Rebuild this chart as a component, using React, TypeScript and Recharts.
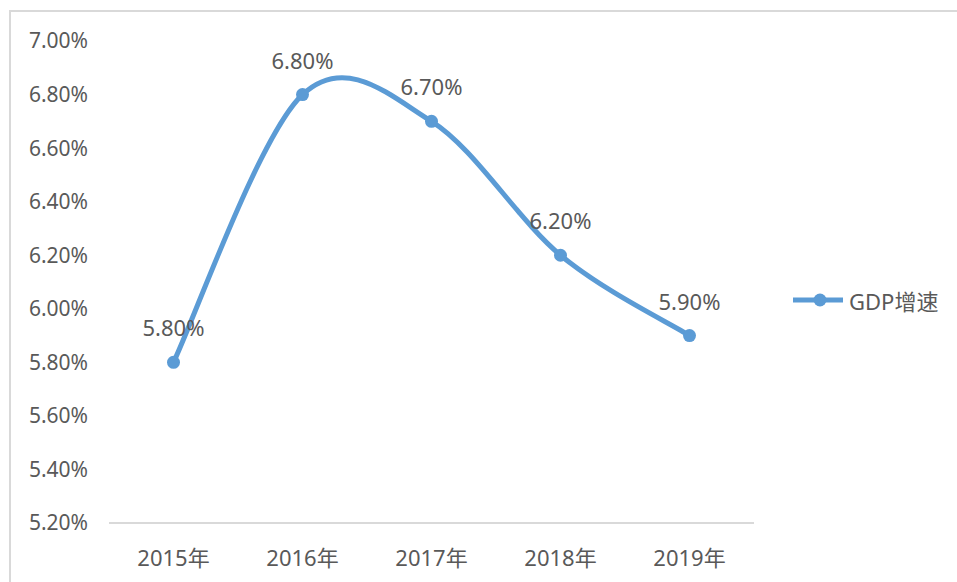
import { LineChart, Line, XAxis, YAxis, Legend, LabelList } from "recharts";

const years = ["2015年", "2016年", "2017年", "2018年", "2019年"];
const gdpGrowth = [5.8, 6.8, 6.7, 6.2, 5.9];
const yTicks = [5.2, 5.4, 5.6, 5.8, 6.0, 6.2, 6.4, 6.6, 6.8, 7.0];
const seriesName = "GDP增速";

const data = years.map((year, i) => ({ year, value: gdpGrowth[i] }));

const BLUE = "#5B9BD5";
const TEXT = "#595959";

// Excel-style smoothed line (Catmull-Rom segments as cubic beziers)
function excelCurve(context: any) {
  let pts: [number, number][] = [];
  return {
    areaStart() {},
    areaEnd() {},
    lineStart() {
      pts = [];
    },
    point(x: number, y: number) {
      pts.push([+x, +y]);
    },
    lineEnd() {
      const n = pts.length;
      if (!n) return;
      context.moveTo(pts[0][0], pts[0][1]);
      for (let i = 0; i < n - 1; i++) {
        const p0 = pts[Math.max(i - 1, 0)];
        const p1 = pts[i];
        const p2 = pts[i + 1];
        const p3 = pts[Math.min(i + 2, n - 1)];
        context.bezierCurveTo(
          p1[0] + (p2[0] - p0[0]) / 6,
          p1[1] + (p2[1] - p0[1]) / 6,
          p2[0] - (p3[0] - p1[0]) / 6,
          p2[1] - (p3[1] - p1[1]) / 6,
          p2[0],
          p2[1]
        );
      }
    },
  };
}

const fmt = (v: number) => `${v.toFixed(2)}%`;

function LegendContent() {
  return (
    <div style={{ display: "flex", alignItems: "center", height: 24 }}>
      <svg width={52} height={24}>
        <line x1={0} y1={12} x2={50} y2={12} stroke={BLUE} strokeWidth={5} />
        <circle cx={27} cy={12} r={6.5} fill={BLUE} />
      </svg>
      <span style={{ marginLeft: 4, fontSize: 22, color: TEXT, whiteSpace: "nowrap" }}>
        {seriesName}
      </span>
    </div>
  );
}

export default function App() {
  return (
    <div
      style={{
        position: "fixed",
        left: 9,
        top: 10,
        width: 960,
        height: 600,
        borderTop: "2px solid #d9d9d9",
        borderLeft: "2px solid #d9d9d9",
        background: "#fff",
        fontFamily: "'Noto Sans', 'Noto Sans CJK SC', sans-serif",
      }}
    >
      <LineChart width={946} height={570} data={data} margin={{ top: 29, right: 203, left: 0, bottom: 19 }}>
        <XAxis
          dataKey="year"
          padding={{ left: 64.5, right: 64.5 }}
          axisLine={{ stroke: "#d9d9d9", strokeWidth: 2 }}
          tickLine={false}
          tickSize={0}
          tickMargin={27}
          height={40}
          tick={{ fill: TEXT, fontSize: 22 }}
        />
        <YAxis
          width={98}
          domain={[5.2, 7.0]}
          ticks={yTicks}
          interval={0}
          axisLine={false}
          tickLine={false}
          tickSize={0}
          tickMargin={21}
          tickFormatter={fmt}
          tick={{ fill: TEXT, fontSize: 21 }}
        />
        <Legend
          layout="horizontal"
          verticalAlign="middle"
          align="center"
          wrapperStyle={{ left: 782, top: 276, width: "auto" }}
          content={<LegendContent />}
        />
        <Line
          name={seriesName}
          dataKey="value"
          type={excelCurve as any}
          stroke={BLUE}
          strokeWidth={5}
          dot={{ r: 6.5, fill: BLUE, stroke: BLUE, strokeWidth: 0 }}
          activeDot={false}
          isAnimationActive={false}
        >
          <LabelList dataKey="value" position="top" offset={26} formatter={(v: any) => fmt(Number(v))} fill={TEXT} fontSize={22} />
        </Line>
      </LineChart>
    </div>
  );
}
